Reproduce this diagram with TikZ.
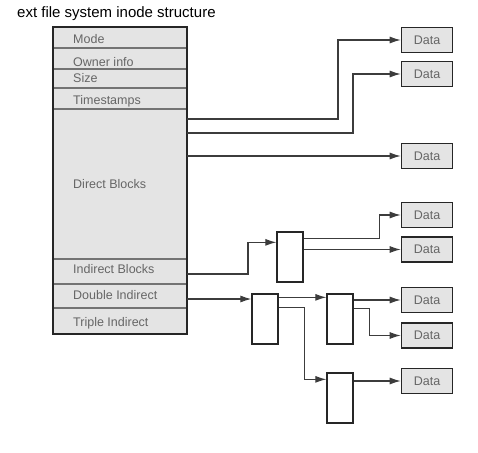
\documentclass[tikz,border=0pt]{standalone}
\usepackage{fontspec}
\setmainfont{Liberation Sans}
\usetikzlibrary{arrows.meta}
\definecolor{cellgray}{HTML}{E4E4E4}
\definecolor{labelgray}{HTML}{666666}
\definecolor{wiregray}{HTML}{3C3C3C}
\begin{document}
\begin{tikzpicture}[x=1pt, y=-1pt,
  field/.style={anchor=west, text=labelgray, inner sep=0pt, text height=9pt, text depth=0pt, font=\fontsize{12.5}{14}\selectfont},
  databox/.style={draw=black!85, line width=1.6pt, fill=cellgray, text=labelgray, minimum width=51pt, minimum height=25pt, inner sep=0pt, font=\fontsize{12.5}{14}\selectfont},
  ptrbox/.style={draw=black!85, line width=1.3pt, fill=white, minimum width=26pt, minimum height=50pt, inner sep=0pt},
  link/.style={draw=wiregray, line width=1.1pt, -{Latex[length=11pt,width=7pt]}}]

\useasboundingbox (0,0) rectangle (478,452);

\node[anchor=west, inner sep=0pt, font=\fontsize{15}{17}\selectfont] (title) at (17,14) {ext file system inode structure};

\fill[cellgray] (53,27) rectangle (187,334);
\draw[black!55, line width=1.3pt] (53,48) -- (187,48);
\draw[black!55, line width=1.3pt] (53,69) -- (187,69);
\draw[black!55, line width=1.3pt] (53,88) -- (187,88);
\draw[black!55, line width=1.3pt] (53,109) -- (187,109);
\draw[black!55, line width=1.3pt] (53,259) -- (187,259);
\draw[black!55, line width=1.3pt] (53,284) -- (187,284);
\draw[black!55, line width=1.3pt] (53,308) -- (187,308);
\draw[black!85, line width=2pt] (53,27) rectangle (187,334);

\node[field] (mode) at (73,39) {Mode};
\node[field] (owner) at (73,62) {Owner info};
\node[field] (size) at (73,78) {Size};
\node[field] (times) at (73,100) {Timestamps};
\node[field] (direct) at (73,184) {Direct Blocks};
\node[field] (indirect) at (73,269) {Indirect Blocks};
\node[field] (double) at (73,295) {Double Indirect};
\node[field] (triple) at (73,322) {Triple Indirect};

\coordinate (dir1) at (187,119);
\coordinate (dir2) at (187,133);
\coordinate (dir3) at (187,156);
\coordinate (indp) at (187,274);
\coordinate (dblp) at (187,299);

\node[databox] (data1) at (427,40) {Data};
\node[databox] (data2) at (427,74) {Data};
\node[databox] (data3) at (427,156) {Data};
\node[databox] (data4) at (427,215) {Data};
\node[databox] (data5) at (427,249.5) {Data};
\node[databox] (data6) at (427,300) {Data};
\node[databox] (data7) at (427,335.5) {Data};
\node[databox] (data8) at (427,381) {Data};

\node[ptrbox] (ind) at (290,257) {};
\node[ptrbox] (dbl1) at (265,319) {};
\node[ptrbox] (dbl2) at (340,319) {};
\node[ptrbox] (dbl3) at (340,398) {};

\draw[link] (dir1) -- ++(151,0) |- (data1);
\draw[link] (dir2) -- ++(166,0) |- (data2);
\draw[link] (dir3) -- (data3);

\draw[link] (indp) -- ++(61,0) |- ([yshift=-11pt]ind.north west);
\draw[link] ([yshift=-7pt]ind.north east) -- ++(76,0) |- (data4);
\draw[link] (ind.east |- data5) -- (data5);

\draw[link] (dblp) -- (dblp -| dbl1.west);
\draw[link] ([yshift=-4pt]dbl1.north east) -- ([yshift=-4pt]dbl2.north west);
\draw[link] ([yshift=-14pt]dbl1.north east) -- ++(26,0) |- ([yshift=-7pt]dbl3.north west);
\draw[link] (dbl2.east |- data6) -- (data6);
\draw[link] ([yshift=-15pt]dbl2.north east) -- ++(16,0) |- (data7);
\draw[link] (dbl3.east |- data8) -- (data8);

\end{tikzpicture}
\end{document}
